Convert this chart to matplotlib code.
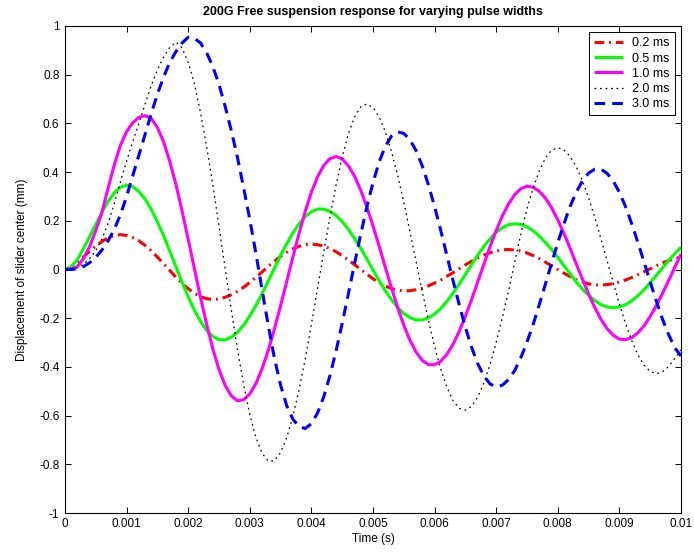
import numpy as np
import matplotlib
matplotlib.use("Agg")
import matplotlib.pyplot as plt

plt.rcParams["font.family"] = ["Liberation Sans", "DejaVu Sans"]
plt.rcParams["axes.unicode_minus"] = False

# sample times (s), 0.1 ms spacing
time_s = np.linspace(0.0, 0.01, 101)

# slider-center displacement (mm) for each pulse width
disp_0p2ms = [
    0.000, 0.009, 0.028, 0.052, 0.075, 0.096, 0.115, 0.130, 0.140, 0.143,
    0.140, 0.131, 0.118, 0.099, 0.077, 0.051, 0.024, -0.004, -0.031, -0.057,
    -0.079, -0.098, -0.111, -0.120, -0.123, -0.121, -0.114, -0.104, -0.090, -0.073,
    -0.053, -0.032, -0.010, 0.013, 0.034, 0.054, 0.071, 0.085, 0.095, 0.102,
    0.104, 0.102, 0.096, 0.086, 0.073, 0.057, 0.039, 0.020, 0.000, -0.019,
    -0.038, -0.054, -0.068, -0.078, -0.085, -0.088, -0.087, -0.083, -0.077, -0.067,
    -0.056, -0.043, -0.028, -0.013, 0.003, 0.019, 0.034, 0.047, 0.059, 0.069,
    0.076, 0.081, 0.082, 0.080, 0.076, 0.068, 0.057, 0.045, 0.030, 0.015,
    0.000, -0.015, -0.029, -0.042, -0.051, -0.059, -0.063, -0.064, -0.062, -0.058,
    -0.051, -0.043, -0.033, -0.021, -0.009, 0.003, 0.016, 0.027, 0.037, 0.045,
    0.051,
]

disp_0p5ms = [
    0.000, 0.012, 0.040, 0.085, 0.135, 0.185, 0.235, 0.280, 0.315, 0.338,
    0.346, 0.340, 0.320, 0.289, 0.247, 0.196, 0.139, 0.076, 0.012, -0.052,
    -0.112, -0.167, -0.213, -0.250, -0.275, -0.288, -0.289, -0.278, -0.258, -0.229,
    -0.191, -0.147, -0.099, -0.047, 0.006, 0.058, 0.106, 0.150, 0.188, 0.217,
    0.237, 0.248, 0.248, 0.239, 0.222, 0.197, 0.165, 0.128, 0.087, 0.043,
    -0.002, -0.046, -0.087, -0.124, -0.156, -0.181, -0.198, -0.207, -0.207, -0.199,
    -0.183, -0.160, -0.131, -0.097, -0.060, -0.020, 0.020, 0.059, 0.095, 0.126,
    0.153, 0.172, 0.184, 0.188, 0.185, 0.175, 0.159, 0.137, 0.111, 0.082,
    0.049, 0.016, -0.018, -0.051, -0.080, -0.106, -0.128, -0.144, -0.154, -0.157,
    -0.154, -0.144, -0.129, -0.108, -0.083, -0.054, -0.024, 0.007, 0.037, 0.066,
    0.091,
]

disp_1p0ms = [
    0.000, 0.003, 0.012, 0.045, 0.095, 0.160, 0.235, 0.335, 0.430, 0.510,
    0.566, 0.603, 0.625, 0.632, 0.620, 0.583, 0.524, 0.445, 0.350, 0.241,
    0.124, 0.004, -0.115, -0.226, -0.326, -0.411, -0.476, -0.519, -0.539, -0.535,
    -0.511, -0.468, -0.407, -0.332, -0.244, -0.148, -0.049, 0.052, 0.149, 0.239,
    0.317, 0.381, 0.427, 0.455, 0.464, 0.454, 0.426, 0.383, 0.326, 0.257,
    0.179, 0.096, 0.009, -0.075, -0.156, -0.229, -0.291, -0.339, -0.373, -0.391,
    -0.391, -0.377, -0.348, -0.307, -0.254, -0.192, -0.124, -0.051, 0.022, 0.094,
    0.160, 0.220, 0.269, 0.307, 0.332, 0.342, 0.338, 0.321, 0.293, 0.253,
    0.204, 0.148, 0.087, 0.023, -0.040, -0.101, -0.156, -0.204, -0.243, -0.270,
    -0.286, -0.288, -0.280, -0.260, -0.231, -0.193, -0.148, -0.098, -0.045, 0.010,
    0.063,
]

disp_2p0ms = [
    0.000, 0.002, 0.008, 0.022, 0.045, 0.078, 0.125, 0.190, 0.270, 0.360,
    0.445, 0.525, 0.600, 0.680, 0.755, 0.820, 0.872, 0.912, 0.934, 0.910,
    0.851, 0.763, 0.644, 0.504, 0.347, 0.177, 0.003, -0.166, -0.329, -0.473,
    -0.596, -0.691, -0.755, -0.787, -0.785, -0.752, -0.690, -0.603, -0.493, -0.367,
    -0.225, -0.078, 0.071, 0.214, 0.346, 0.462, 0.557, 0.626, 0.668, 0.680,
    0.665, 0.627, 0.566, 0.484, 0.387, 0.276, 0.155, 0.032, -0.091, -0.209,
    -0.316, -0.409, -0.484, -0.539, -0.570, -0.578, -0.562, -0.524, -0.466, -0.390,
    -0.299, -0.197, -0.089, 0.030, 0.145, 0.250, 0.335, 0.405, 0.458, 0.490,
    0.500, 0.491, 0.465, 0.422, 0.364, 0.294, 0.214, 0.126, 0.036, -0.054,
    -0.142, -0.222, -0.292, -0.350, -0.393, -0.419, -0.428, -0.420, -0.398, -0.365,
    -0.330,
]

disp_3p0ms = [
    0.000, 0.000, 0.003, 0.012, 0.028, 0.050, 0.080, 0.118, 0.165, 0.225,
    0.300, 0.385, 0.470, 0.555, 0.640, 0.720, 0.790, 0.850, 0.895, 0.930,
    0.954, 0.950, 0.930, 0.890, 0.833, 0.760, 0.670, 0.570, 0.460, 0.335,
    0.205, 0.065, -0.085, -0.230, -0.365, -0.475, -0.560, -0.615, -0.645, -0.653,
    -0.633, -0.589, -0.523, -0.437, -0.335, -0.221, -0.100, 0.024, 0.144, 0.257,
    0.357, 0.442, 0.506, 0.548, 0.565, 0.559, 0.533, 0.488, 0.425, 0.347,
    0.258, 0.160, 0.057, -0.046, -0.145, -0.238, -0.319, -0.387, -0.437, -0.470,
    -0.482, -0.475, -0.452, -0.415, -0.362, -0.298, -0.225, -0.144, -0.059, 0.027,
    0.110, 0.188, 0.259, 0.318, 0.364, 0.396, 0.412, 0.412, 0.395, 0.363,
    0.317, 0.258, 0.188, 0.111, 0.031, -0.051, -0.130, -0.204, -0.268, -0.322,
    -0.355,
]

series_labels = ["0.2 ms", "0.5 ms", "1.0 ms", "2.0 ms", "3.0 ms"]
x_ticks = [0, 0.001, 0.002, 0.003, 0.004, 0.005, 0.006, 0.007, 0.008, 0.009, 0.01]
x_tick_labels = ["0", "0.001", "0.002", "0.003", "0.004", "0.005",
                 "0.006", "0.007", "0.008", "0.009", "0.01"]
y_ticks = [-1, -0.8, -0.6, -0.4, -0.2, 0, 0.2, 0.4, 0.6, 0.8, 1]
y_tick_labels = ["-1", "-0.8", "-0.6", "-0.4", "-0.2", "0",
                 "0.2", "0.4", "0.6", "0.8", "1"]

W, H = 694, 554
fig = plt.figure(figsize=(W / 100, H / 100), dpi=100)
# axes box in pixels: left 65, right 681, top 26, bottom 513
ax = fig.add_axes([65 / W, (H - 513) / H, 616 / W, 487 / H])

styles = [
    dict(color=(1, 0, 0), lw=2.2, ls=(0, (3.2, 1.6, 0.6, 1.6))),
    dict(color=(0, 1, 0), lw=2.2, ls="-"),
    dict(color=(1, 0, 1), lw=2.2, ls="-"),
    dict(color="k", lw=0.9, ls=(0, (1.4, 3.0))),
    dict(color=(0, 0, 1), lw=2.2, ls=(0, (3.5, 2.3))),
]
all_series = [disp_0p2ms, disp_0p5ms, disp_1p0ms, disp_2p0ms, disp_3p0ms]
for values, label, st in zip(all_series, series_labels, styles):
    ax.plot(time_s, values, label=label, color=st["color"], linewidth=st["lw"],
            linestyle=st["ls"], solid_capstyle="butt", dash_capstyle="butt")

ax.set_xlim(0, 0.01)
ax.set_ylim(-1, 1)
ax.set_xticks(x_ticks)
ax.set_xticklabels(x_tick_labels)
ax.set_yticks(y_ticks)
ax.set_yticklabels(y_tick_labels)
ax.tick_params(direction="in", length=4, width=0.7, top=True, right=True,
               labelsize=8.5)
ax.tick_params(axis="x", pad=3.5)
ax.tick_params(axis="y", pad=4)
for sp in ax.spines.values():
    sp.set_linewidth(0.8)

ax.set_xlabel("Time (s)", fontsize=8.5, labelpad=2)
ax.set_ylabel("Displacement of slider center (mm)", fontsize=8.5, labelpad=8)
ax.set_title("200G Free suspension response for varying pulse widths",
             fontsize=9, fontweight="bold", pad=8)

leg = ax.legend(loc="upper right", fontsize=9, frameon=True, fancybox=False,
                edgecolor="k", framealpha=1, handlelength=2.3, borderpad=0.4,
                labelspacing=0.26, handletextpad=0.75, borderaxespad=0.5)
leg.get_frame().set_linewidth(0.7)

fig.savefig("out.png", dpi=100)
